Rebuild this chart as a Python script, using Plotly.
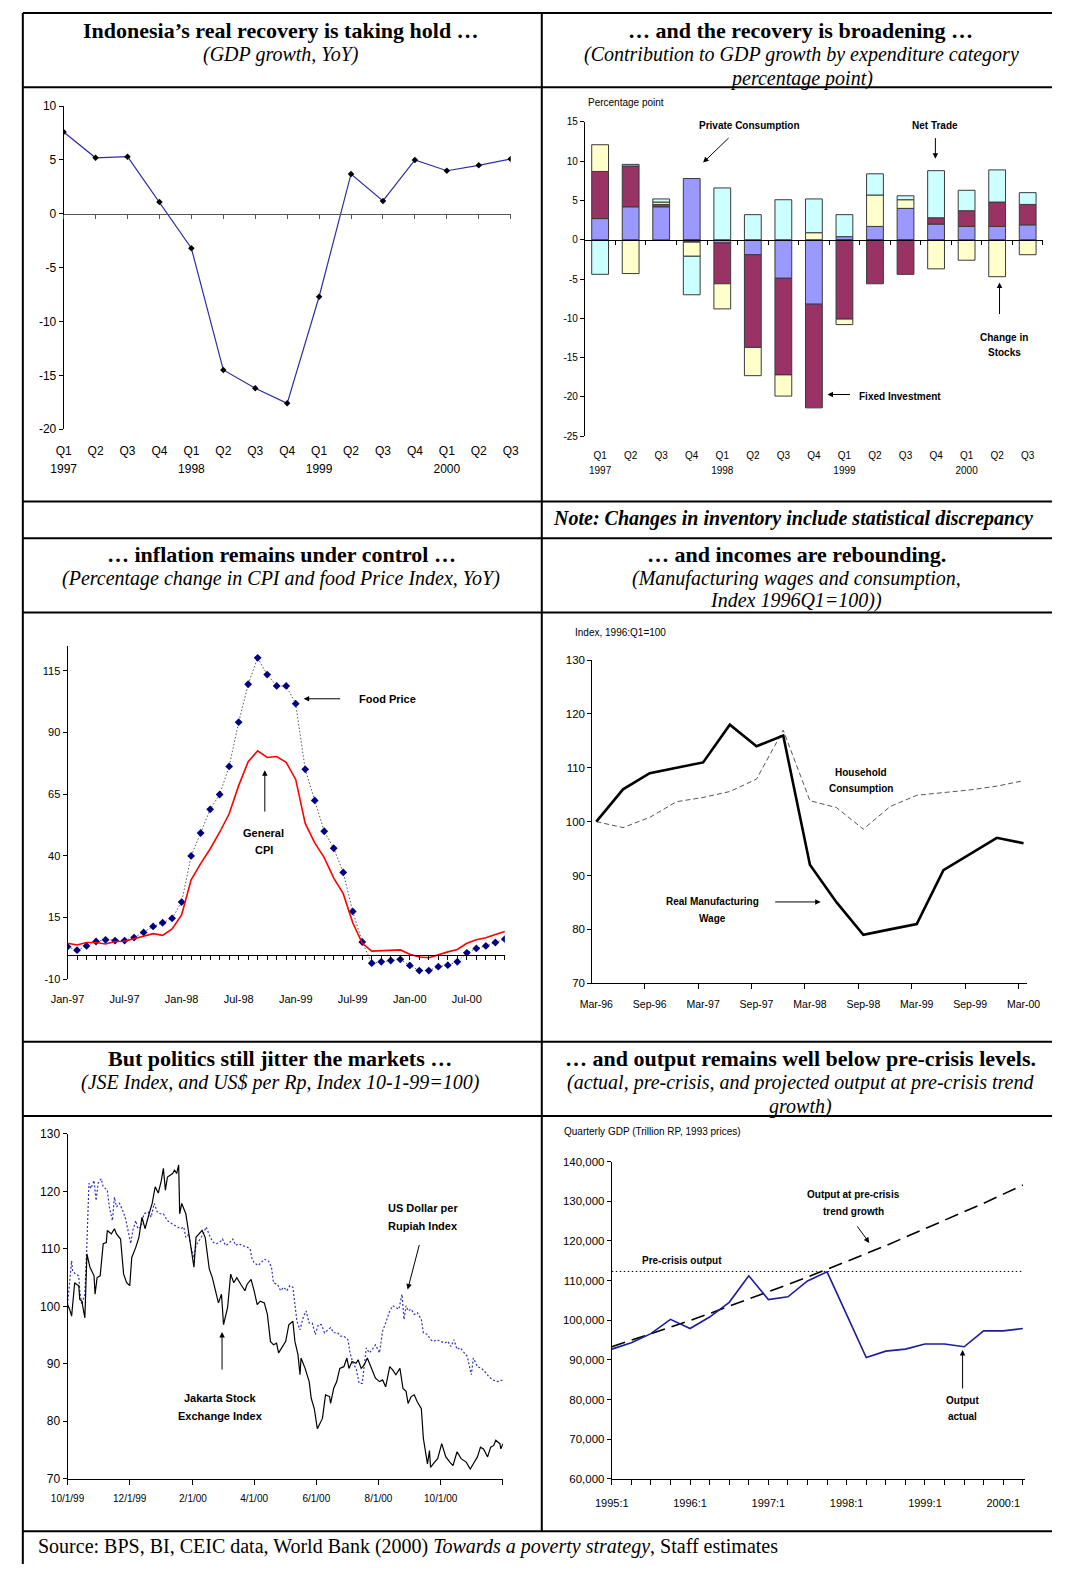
import plotly.graph_objects as go
import pandas as pd

W, H = 1065, 1571
def fx(p): return p / W
def fy(p): return 1 - p / H

SERIF = "Liberation Serif, Times New Roman, serif"
SANS = "Liberation Sans, Arial, sans-serif"

# ---------------- DATA ----------------
# Panel 1: GDP growth, YoY
p1_quarters = ["Q1", "Q2", "Q3", "Q4", "Q1", "Q2", "Q3", "Q4", "Q1", "Q2", "Q3", "Q4", "Q1", "Q2", "Q3"]
p1_years = ["1997", "1998", "1999", "2000"]
p1_gdp = [7.6, 5.2, 5.3, 1.1, -3.2, -14.5, -16.2, -17.6, -7.7, 3.7, 1.2, 5.0, 4.0, 4.5, 5.1]

# Panel 2: contributions to GDP growth (percentage points)
p2_private_cons = [2.7, 4.2, 4.2, 7.8, -0.4, -1.9, -4.9, -8.2, 0.4, 1.7, 4.0, 2.0, 1.7, 1.7, 1.9]
p2_fixed_inv = [6.0, 5.2, 0.3, -0.3, -5.2, -11.8, -12.3, -13.2, -10.1, -5.6, -4.4, 0.8, 2.0, 3.1, 2.6]
p2_stocks = [3.4, -4.3, 0.3, -1.8, -3.2, -3.6, -2.7, 0.9, -0.7, 4.0, 1.1, -3.7, -2.6, -4.7, -1.9]
p2_net_trade = [-4.4, 0.2, 0.4, -4.9, 6.6, 3.2, 5.1, 4.3, 2.8, 2.7, 0.5, 6.0, 2.6, 4.1, 1.5]

# Panel 3: inflation (monthly, Jan-97 .. Nov-00)
p3_months = list(pd.date_range("1997-01-01", periods=47, freq="MS").strftime("%b-%y"))
p3_food = [3.2, 1.8, 3.5, 5.3, 6.0, 5.7, 5.7, 6.9, 9.0, 11.4, 12.9, 14.7,
           21.3, 40.0, 49.3, 58.9, 64.9, 76.3, 94.2, 109.6, 120.3, 113.5, 108.9, 108.9,
           101.7, 75.1, 62.5, 50.0, 43.1, 33.3, 17.5, 5.1, -3.5, -2.9, -2.4, -1.9,
           -4.4, -6.5, -6.5, -4.9, -4.3, -2.9, 0.7, 2.5, 3.5, 4.9, 6.3]
p3_cpi = [4.6, 3.9, 4.9, 4.9, 4.3, 5.3, 5.4, 6.4, 7.2, 8.5, 7.8, 10.4,
          16.1, 30.3, 36.9, 42.8, 49.6, 57.1, 68.5, 78.2, 82.6, 79.9, 80.3, 77.9,
          71.0, 53.2, 45.3, 39.3, 31.0, 24.7, 12.9, 4.6, 1.4, 1.5, 1.5, 1.9,
          0.1, -1.0, -1.3, 0.0, 1.1, 2.1, 4.6, 6.0, 6.8, 8.1, 9.4]

# Panel 4: wages and consumption (quarterly, Mar-96 .. Mar-00)
p4_quarters = list(pd.date_range("1996-03-01", periods=17, freq="3MS").strftime("%b-%y"))
p4_wage = [100, 106, 109, 110, 111, 118, 114, 116, 92, 85, 79, 80, 81, 91, 94, 97, 96]
p4_household = [100, 98.9, 100.8, 103.7, 104.5, 105.6, 107.9, 117.0, 103.9, 102.6, 98.6,
                102.8, 104.9, 105.4, 105.9, 106.6, 107.6]

# Panel 5: JSE and US$ per Rp (days since 10/1/99)
p5_tick_days = [0, 61, 123, 183, 244, 305, 366, 427]
p5_tick_text = ["10/1/99", "12/1/99", "2/1/00", "4/1/00", "6/1/00", "8/1/00", "10/1/00", ""]
p5_jse_days = [0, 2, 4, 7, 9, 11, 12, 14, 17, 19, 22, 26, 27, 29, 32, 35, 38, 39, 43, 46, 48, 52,
               55, 58, 61, 63, 67, 70, 73, 76, 80, 83, 86, 89, 92, 94, 96, 98, 103, 105, 107, 109,
               110, 112, 116, 118, 121, 124, 126, 129, 132, 135, 139, 142, 145, 148, 151, 153,
               157, 160, 163, 166, 170, 174, 176, 180, 183, 186, 189, 193, 196, 199, 202, 205,
               207, 211, 214, 217, 221, 223, 226, 228, 229, 233, 237, 239, 242, 245, 248, 250,
               253, 257, 258, 261, 264, 267, 271, 274, 276, 279, 283, 285, 288, 291, 294, 296,
               299, 302, 306, 309, 312, 316, 319, 322, 326, 329, 332, 334, 337, 340, 343, 347,
               349, 353, 355, 356, 360, 363, 367, 371, 375, 378, 382, 386, 391, 395, 398, 402,
               405, 408, 412, 415, 418, 420, 424, 425, 427]
p5_jse = [100.3, 99.5, 98.3, 104.1, 103.8, 103.6, 101.2, 100.9, 98.0, 109.1, 106.8, 105.3,
          102.1, 105.0, 105.3, 110.9, 111.1, 113.2, 112.6, 113.5, 112.6, 111.7, 105.6, 104.1,
          103.6, 108.5, 110.3, 112.0, 115.5, 113.5, 116.1, 117.9, 120.8, 119.7, 121.9, 124.0,
          120.2, 122.5, 123.1, 123.7, 123.1, 124.6, 116.1, 117.9, 116.1, 113.8, 110.3, 106.8,
          112.0, 112.6, 113.2, 112.0, 106.5, 105.0, 102.7, 100.6, 102.1, 96.8, 99.8, 105.6,
          104.1, 105.0, 103.8, 102.7, 103.8, 104.7, 102.7, 100.3, 100.9, 100.6, 98.6, 93.9,
          93.3, 93.6, 91.9, 93.0, 93.9, 96.8, 97.4, 93.9, 91.6, 88.1, 91.0, 89.2, 86.9, 84.0,
          82.2, 78.7, 79.9, 80.5, 84.6, 84.3, 83.1, 85.7, 86.9, 89.2, 89.5, 91.0, 89.2, 90.4,
          90.1, 90.7, 89.2, 89.8, 91.0, 90.1, 88.7, 87.5, 86.9, 87.2, 86.0, 89.5, 88.9, 88.1,
          89.2, 85.7, 85.2, 83.1, 84.3, 84.6, 83.4, 82.2, 77.0, 72.6, 74.9, 72.0, 72.9, 73.5,
          76.1, 73.8, 72.9, 72.3, 74.7, 73.5, 72.9, 71.7, 72.6, 73.8, 75.5, 75.2, 73.8, 75.5,
          75.8, 76.7, 76.1, 75.2, 76.1]
p5_usd_days = [0, 2, 4, 5, 8, 11, 12, 14, 16, 17, 19, 21, 23, 26, 28, 30, 33, 35, 39, 41, 44,
               46, 48, 51, 54, 57, 60, 62, 64, 67, 69, 72, 75, 79, 82, 85, 88, 91, 94, 98, 102,
               105, 108, 111, 114, 116, 119, 121, 124, 126, 130, 133, 136, 140, 143, 146, 149,
               152, 155, 158, 162, 165, 168, 171, 176, 179, 181, 183, 187, 190, 193, 197, 200,
               202, 206, 209, 212, 215, 218, 221, 223, 225, 228, 231, 234, 237, 240, 243, 246,
               249, 252, 255, 258, 261, 265, 268, 271, 275, 277, 280, 283, 286, 289, 293, 296,
               299, 302, 306, 309, 312, 316, 319, 322, 325, 328, 330, 332, 334, 337, 340, 343,
               347, 349, 353, 356, 359, 362, 366, 370, 373, 376, 379, 382, 385, 389, 392, 396,
               398, 402, 406, 409, 413, 417, 422, 427]
p5_usd = [100.3, 103.8, 107.9, 106.1, 105.6, 105.3, 102.7, 100.3, 101.8, 102.1, 110.9, 121.4,
          120.5, 121.9, 118.4, 121.4, 122.2, 120.8, 120.2, 117.3, 114.9, 119.0, 117.3, 117.9,
          116.7, 115.2, 112.6, 110.9, 113.2, 114.9, 113.5, 113.8, 116.1, 116.4, 115.5, 117.9,
          116.4, 116.1, 116.1, 114.9, 114.4, 114.1, 113.8, 113.5, 113.8, 112.0, 112.6, 110.3,
          108.5, 110.6, 111.7, 112.6, 113.8, 112.0, 111.1, 110.9, 111.1, 111.7, 110.6, 110.9,
          111.7, 110.6, 110.9, 110.6, 110.3, 110.0, 108.2, 107.6, 107.1, 107.6, 108.2, 107.9,
          106.8, 104.1, 103.8, 102.7, 103.3, 102.7, 103.6, 103.3, 99.8, 97.4, 95.9, 98.0, 99.2,
          97.1, 97.1, 95.1, 96.8, 96.8, 95.4, 95.9, 96.3, 95.4, 95.4, 94.8, 94.8, 94.2, 91.9,
          90.1, 89.2, 86.6, 86.6, 92.8, 91.9, 92.5, 93.3, 91.9, 95.7, 97.1, 99.2, 100.1, 99.8,
          99.5, 102.1, 97.7, 100.1, 99.2, 99.5, 98.6, 98.9, 97.7, 95.4, 95.1, 94.2, 93.9, 94.2,
          93.9, 93.6, 93.9, 93.0, 94.2, 92.5, 92.8, 91.9, 91.3, 88.1, 91.0, 89.5, 89.2, 88.7,
          87.8, 87.2, 86.9, 87.2]

# Panel 6: quarterly GDP (1995:1 .. 2000:2)
p6_quarters = [f"{y}:{q}" for y in range(1995, 2001) for q in range(1, 5)][:22]
p6_actual = [92700, 94300, 96600, 100200, 97900, 100800, 104500, 111200, 105200, 105900,
             109900, 112200, 101400, 90600, 92200, 92700, 94000, 94000, 93300, 97300, 97300, 97900]
p6_trend = [93300, 94900, 96500, 98200, 99900, 101700, 103500, 105300, 107100, 109000, 110900,
            112800, 114800, 116800, 118800, 120900, 123000, 125100, 127300, 129500, 131800, 134100]
p6_precrisis = 112300

# ---------------- FIGURE ----------------
fig = go.Figure()
idx1 = list(range(len(p1_gdp)))
idx2 = list(range(len(p2_private_cons)))
idx3 = list(range(len(p3_months)))
idx4 = list(range(len(p4_quarters)))
idx6 = list(range(len(p6_quarters)))

def dummy(xa, ya):
    fig.add_trace(go.Scatter(x=[None], y=[None], xaxis=xa, yaxis=ya, mode="lines",
                             showlegend=False, hoverinfo="skip"))

# Panel 1
fig.add_trace(go.Scatter(x=idx1, y=p1_gdp, xaxis="x", yaxis="y", mode="lines+markers",
                         line=dict(color="#2e2ea3", width=1.2),
                         marker=dict(symbol="diamond", size=5, color="black")))
dummy("x2", "y"); dummy("x3", "y")

# Panel 2
bar_line = dict(color="#3a3a3a", width=1)
for vals, col in [(p2_private_cons, "#9999ff"), (p2_fixed_inv, "#993366"),
                  (p2_stocks, "#ffffcc"), (p2_net_trade, "#ccffff")]:
    fig.add_trace(go.Bar(x=idx2, y=vals, xaxis="x4", yaxis="y2",
                         marker=dict(color=col, line=bar_line), showlegend=False))
dummy("x5", "y2"); dummy("x6", "y2")

# Panel 3
fig.add_trace(go.Scatter(x=idx3, y=p3_food, xaxis="x7", yaxis="y3", mode="lines+markers",
                         line=dict(color="#555555", width=1, dash="1.5px,2px"),
                         marker=dict(symbol="diamond", size=6, color="#000080")))
fig.add_trace(go.Scatter(x=idx3, y=p3_cpi, xaxis="x7", yaxis="y3", mode="lines",
                         line=dict(color="#ff0000", width=1.6)))
dummy("x8", "y3")

# Panel 4
fig.add_trace(go.Scatter(x=idx4, y=p4_household, xaxis="x9", yaxis="y4", mode="lines",
                         line=dict(color="#555555", width=1, dash="5px,3px")))
fig.add_trace(go.Scatter(x=idx4, y=p4_wage, xaxis="x9", yaxis="y4", mode="lines",
                         line=dict(color="black", width=2.6)))
dummy("x12", "y4")

# Panel 5
fig.add_trace(go.Scatter(x=p5_usd_days, y=p5_usd, xaxis="x10", yaxis="y5", mode="lines",
                         line=dict(color="#2f2fc0", width=1.2, dash="2px,2px")))
fig.add_trace(go.Scatter(x=p5_jse_days, y=p5_jse, xaxis="x10", yaxis="y5", mode="lines",
                         line=dict(color="black", width=1.2)))

# Panel 6
fig.add_trace(go.Scatter(x=[idx6[0], idx6[-1]], y=[p6_precrisis, p6_precrisis], xaxis="x11",
                         yaxis="y6", mode="lines",
                         line=dict(color="black", width=1, dash="1.5px,2.5px")))
fig.add_trace(go.Scatter(x=idx6, y=p6_trend, xaxis="x11", yaxis="y6", mode="lines",
                         line=dict(color="black", width=1.6, dash="14px,7px")))
fig.add_trace(go.Scatter(x=idx6, y=p6_actual, xaxis="x11", yaxis="y6", mode="lines",
                         line=dict(color="#1c1c9c", width=1.6)))

# ---------------- AXES ----------------
def ax(size=11, **kw):
    d = dict(showgrid=False, zeroline=False, showline=False, ticks="", fixedrange=True,
             tickfont=dict(family=SANS, size=size, color="black"))
    d.update(kw)
    return d

def yax(dom, rng, vals, size, anchor, text=None, **kw):
    return ax(size=size, domain=[fy(dom[0]), fy(dom[1])], range=rng, anchor=anchor,
              tickvals=vals, ticktext=text if text is not None else [str(v) for v in vals],
              showline=True, linecolor="black", linewidth=1, ticks="outside", ticklen=4,
              tickcolor="black", **kw)

def zero_pos(dom, rng):
    b, t = fy(dom[0]), fy(dom[1])
    return b + (0 - rng[0]) / (rng[1] - rng[0]) * (t - b)

L = {}
# Panel 1
p1_dom_y, p1_rng = (426, 100), [-20, 10]
L["xaxis"] = ax(12, domain=[fx(48), fx(508)], range=[0, 14], anchor="y",
                tickvals=idx1, ticktext=p1_quarters, ticklabelstandoff=13)
L["xaxis2"] = ax(12, overlaying="x", anchor="y", range=[0, 14], tickvals=[0, 4, 8, 12],
                 ticktext=p1_years, ticklabelstandoff=31)
L["xaxis3"] = ax(12, overlaying="x", anchor="free", position=zero_pos(p1_dom_y, p1_rng),
                 range=[0, 14], showline=True, linecolor="#555555", linewidth=1,
                 ticks="outside", ticklen=4, tickcolor="#555555", tickvals=idx1,
                 showticklabels=False)
L["yaxis"] = yax(p1_dom_y, p1_rng, list(range(-20, 11, 5)), 12, "x")

# Panel 2
p2_dom_y, p2_rng = (433, 116), [-25, 15]
L["xaxis4"] = ax(10, domain=[fx(584.3), fx(1055.7)], range=[-0.5, 14.5], anchor="y2",
                 tickvals=idx2, ticktext=p1_quarters, ticklabelstandoff=12)
L["xaxis5"] = ax(10, overlaying="x4", anchor="y2", range=[-0.5, 14.5], tickvals=[0, 4, 8, 12],
                 ticktext=p1_years, ticklabelstandoff=27)
L["xaxis6"] = ax(10, overlaying="x4", anchor="free", position=zero_pos(p2_dom_y, p2_rng),
                 range=[-0.5, 14.5], showline=True, linecolor="black", linewidth=1,
                 ticks="outside", ticklen=4, tickcolor="black",
                 tickvals=[i + 0.5 for i in idx2], showticklabels=False)
L["yaxis2"] = yax(p2_dom_y, p2_rng, list(range(-25, 16, 5)), 10, "x4")

# Panel 3
p3_dom_y, p3_rng = (981, 645), [-10, 125]
L["xaxis7"] = ax(11, domain=[fx(52), fx(502)], range=[0, 46], anchor="y3",
                 tickvals=idx3[::6], ticktext=p3_months[::6], ticklabelstandoff=12)
L["xaxis8"] = ax(11, overlaying="x7", anchor="free", position=zero_pos(p3_dom_y, p3_rng),
                 range=[0, 46], showline=True, linecolor="black", linewidth=1,
                 ticks="outside", ticklen=4, tickcolor="black", tickvals=idx3,
                 showticklabels=False)
L["yaxis3"] = yax(p3_dom_y, p3_rng, [-10, 15, 40, 65, 90, 115], 11, "x7")

# Panel 4 (labels centred on the data, tick marks just left of them, as in the original)
p4_rng = [-0.15, 16.12]
L["xaxis9"] = ax(10.5, domain=[fx(592), fx(1039)], range=p4_rng, anchor="y4",
                 tickvals=idx4[::2], ticktext=p4_quarters[::2], showline=True,
                 linecolor="black", linewidth=1, ticklabelstandoff=11)
L["xaxis12"] = ax(10.5, overlaying="x9", anchor="y4", range=p4_rng,
                  tickvals=[i - 0.19 for i in idx4[::2]], showticklabels=False,
                  ticks="outside", ticklen=5, tickcolor="black")
L["yaxis4"] = yax((985, 659), [70, 130], list(range(70, 131, 10)), 11.5, "x9")

# Panel 5
L["xaxis10"] = ax(10, domain=[fx(52), fx(500)], range=[0, 427], anchor="y5",
                  tickvals=p5_tick_days, ticktext=p5_tick_text, showline=True,
                  linecolor="black", linewidth=1, ticks="outside", ticklen=5,
                  tickcolor="black", ticklabelstandoff=5)
L["yaxis5"] = yax((1485, 1137), [70, 130], list(range(70, 131, 10)), 12, "x10")

# Panel 6
L["xaxis11"] = ax(11, domain=[fx(612), fx(1037)], range=[0, 21.1], anchor="y6",
                  tickvals=idx6, ticktext=[q if q.endswith(":1") else "" for q in p6_quarters],
                  showline=True, linecolor="black", linewidth=1, ticks="outside", ticklen=5,
                  tickcolor="black", ticklabelstandoff=9)
p6_vals = list(range(60000, 140001, 10000))
L["yaxis6"] = yax((1485, 1165), [60000, 140000], p6_vals, 11.5, "x11",
                  text=[f"{v:,}" for v in p6_vals])

# ---------------- TABLE LINES ----------------
shapes = []
for yv in [6, 81, 499, 536, 611, 1044, 1119, 1538]:
    shapes.append(dict(type="line", xref="paper", yref="paper", x0=fx(6), x1=1,
                       y0=fy(yv), y1=fy(yv), line=dict(color="black", width=2)))
shapes.append(dict(type="line", xref="paper", yref="paper", x0=fx(6), x1=fx(6),
                   y0=fy(6), y1=0, line=dict(color="black", width=2)))
shapes.append(dict(type="line", xref="paper", yref="paper", x0=fx(540), x1=fx(540),
                   y0=fy(6), y1=fy(1538), line=dict(color="black", width=2)))

# ---------------- TEXT ----------------
ann = []
def txt(x, y, text, size, family=SANS, xanchor="center"):
    ann.append(dict(x=fx(x), y=fy(y), xref="paper", yref="paper", text=text, showarrow=False,
                    xanchor=xanchor, yanchor="middle",
                    font=dict(family=family, size=size, color="black")))

def arrow(x0, y0, x1, y1):
    ann.append(dict(x=fx(x1), y=fy(y1), xref="paper", yref="paper", ax=x0 - x1, ay=y0 - y1,
                    axref="pixel", ayref="pixel", text="", showarrow=True, arrowhead=2,
                    arrowsize=1.1, arrowwidth=1, arrowcolor="black", standoff=0, startstandoff=0))

# titles
txt(272, 24, "<b>Indonesia’s real recovery is taking hold …</b>", 22, SERIF)
txt(272, 48, "<i>(GDP growth, YoY)</i>", 20, SERIF)
txt(806, 24, "<b>… and the recovery is broadening …</b>", 22, SERIF)
txt(807, 48, "<i>(Contribution to GDP growth by expenditure category</i>", 20, SERIF)
txt(807, 72, "<i>percentage point)</i>", 20, SERIF)
txt(798, 516, "<b><i>Note: Changes in inventory include statistical discrepancy</i></b>", 20, SERIF)
txt(272, 552, "<b>… inflation remains under control …</b>", 22, SERIF)
txt(272, 577, "<i>(Percentage change in CPI and food Price Index, YoY)</i>", 20, SERIF)
txt(802, 552, "<b>… and incomes are rebounding.</b>", 22, SERIF)
txt(802, 577, "<i>(Manufacturing wages and consumption,</i>", 20, SERIF)
txt(802, 599, "<i>Index 1996Q1=100))</i>", 20, SERIF)
txt(271, 1061, "<b>But politics still jitter the markets …</b>", 22, SERIF)
txt(271, 1085, "<i>(JSE Index, and US$ per Rp, Index 10-1-99=100)</i>", 20, SERIF)
txt(806, 1061, "<b>… and output remains well below pre-crisis levels.</b>", 22, SERIF)
txt(806, 1085, "<i>(actual, pre-crisis, and projected output at pre-crisis trend</i>", 20, SERIF)
txt(806, 1109, "<i>growth)</i>", 20, SERIF)
txt(20, 1553, "Source: BPS, BI, CEIC data, World Bank (2000) <i>Towards a poverty strategy</i>, "
    "Staff estimates", 20, SERIF, xanchor="left")

# panel 2 labels
txt(585, 96, "Percentage point", 10, xanchor="left")
txt(754, 120, "<b>Private Consumption</b>", 10)
arrow(733, 131, 706, 157)
txt(945, 120, "<b>Net Trade</b>", 10)
arrow(945, 131, 945, 153)
txt(909, 393, "<b>Fixed Investment</b>", 10)
arrow(858, 391, 834, 391)
txt(1016, 333, "<b>Change in</b>", 10)
txt(1016, 349, "<b>Stocks</b>", 10)
arrow(1011, 311, 1011, 278)

# panel 3 labels
txt(381, 698, "<b>Food Price</b>", 11)
arrow(333, 698, 295, 698)
txt(254, 833, "<b>General</b>", 11)
txt(254, 851, "<b>CPI</b>", 11)
arrow(255, 813, 255, 770)

# panel 4 labels
txt(572, 631, "Index, 1996:Q1=100", 10, xanchor="left")
txt(868, 772, "<b>Household</b>", 10)
txt(868, 789, "<b>Consumption</b>", 10)
txt(716, 903, "<b>Real Manufacturing</b>", 10)
txt(716, 920, "<b>Wage</b>", 10)
arrow(780, 903, 827, 903)

# panel 5 labels
txt(418, 1212, "<b>US Dollar per</b>", 11)
txt(418, 1230, "<b>Rupiah Index</b>", 11)
arrow(414, 1248, 402, 1294)
txt(209, 1404, "<b>Jakarta Stock</b>", 11)
txt(209, 1422, "<b>Exchange Index</b>", 11)
arrow(211, 1376, 211, 1337)

# panel 6 labels
txt(561, 1135, "Quarterly GDP (Trillion RP, 1993 prices)", 10, xanchor="left")
txt(861, 1198, "<b>Output at pre-crisis</b>", 10)
txt(861, 1215, "<b>trend growth</b>", 10)
arrow(864, 1229, 877, 1247)
txt(684, 1265, "<b>Pre-crisis output</b>", 10)
txt(973, 1406, "<b>Output</b>", 10)
txt(973, 1422, "<b>actual</b>", 10)
arrow(973, 1395, 973, 1355)

fig.update_layout(
    width=W, height=H, margin=dict(l=0, r=0, t=0, b=0),
    paper_bgcolor="white", plot_bgcolor="white",
    showlegend=False, hovermode=False,
    barmode="relative", bargap=0.45,
    shapes=shapes, annotations=ann,
    font=dict(family=SANS, color="black"),
    **L,
)

fig.write_html("out.html", config={"displayModeBar": False})
